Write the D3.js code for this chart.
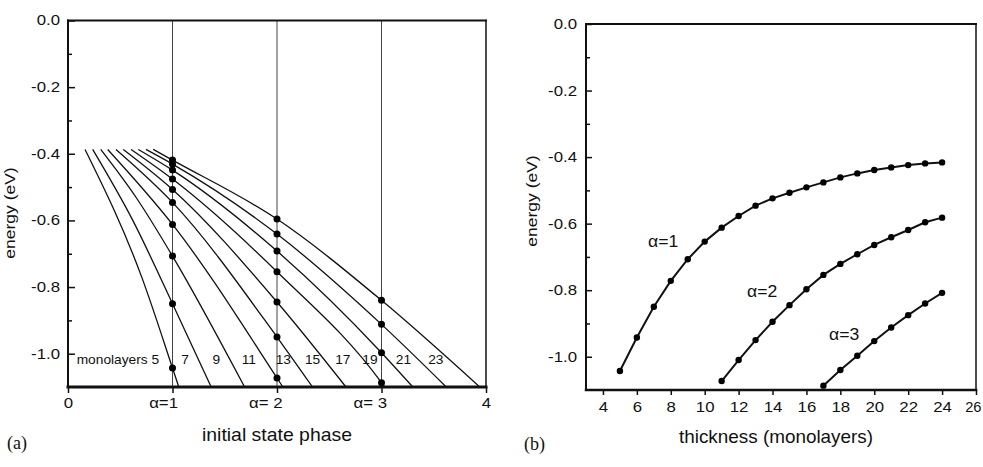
<!DOCTYPE html>
<html><head><meta charset="utf-8">
<script src="https://cdn.jsdelivr.net/npm/d3@7"></script>
<style>body{margin:0;background:#fff}</style>
</head><body><svg id="c" width="983" height="467"></svg>
<script>
// ---------- data ----------
// panel (a): energy vs initial state phase, one curve per film thickness
const monolayers       = [5, 7, 9, 11, 13, 15, 17, 19, 21, 23];
const curveStartPhase  = [0.163, 0.236, 0.313, 0.380, 0.459, 0.529, 0.603, 0.673, 0.746, 0.816];
const curveStartEnergy = -0.387;
const curveMidPhase    = [0.71, 0.62, 0.66, null, null, null, null, null, null, null];
const curveMidEnergy   = [-0.774, -0.60, -0.535, null, null, null, null, null, null, null];
const curveEndPhase    = [1.06, 1.37, 1.69, 2.056, 2.34, 2.66, 3.03, 3.30, 3.62, 3.94];
const curveEndEnergy   = -1.1;
const curveLabelPhase  = [0.083, 1.12, 1.42, 1.73, 2.06, 2.34, 2.63, 2.89, 3.21, 3.52];
const curveLabelEnergy = -1.016;
const alphaPhases      = [1, 2, 3];

// panel (b): quantum-well state energies vs thickness
const thicknessA1 = [5,6,7,8,9,10,11,12,13,14,15,16,17,18,19,20,21,22,23,24];
const energyA1    = [-1.043,-0.942,-0.850,-0.772,-0.707,-0.654,-0.612,-0.577,-0.546,-0.524,
                     -0.507,-0.491,-0.476,-0.461,-0.449,-0.439,-0.431,-0.424,-0.419,-0.416];
const thicknessA2 = [11,12,13,14,15,16,17,18,19,20,21,22,23,24];
const energyA2    = [-1.073,-1.010,-0.950,-0.895,-0.845,-0.797,-0.754,-0.721,-0.692,-0.664,
                     -0.641,-0.619,-0.596,-0.582];
const thicknessA3 = [17,18,19,20,21,22,23,24];
const energyA3    = [-1.087,-1.040,-0.997,-0.953,-0.912,-0.875,-0.840,-0.808];

// ticks
const energyTicks      = [0, -0.2, -0.4, -0.6, -0.8, -1.0];
const energyMinorTicks = [-0.1, -0.3, -0.5, -0.7, -0.9];
const phaseTicks       = [0, 1, 2, 3, 4];
const phaseTickLabels  = ["0", "α=1", "α= 2", "α= 3", "4"];
const thicknessTicks   = [4, 6, 8, 10, 12, 14, 16, 18, 20, 22, 24, 26];

// ---------- drawing ----------
const SANS = '"Liberation Sans", Arial, Helvetica, sans-serif';
const SERIF = '"Liberation Serif", "Times New Roman", serif';
const TS = 1.2;      // horizontal stretch of tick labels (scan has wide type)
const svg = d3.select('#c');

const xA = d3.scaleLinear([0, 4], [68, 486]);
const yA = d3.scaleLinear([-1.1, 0], [387, 20.5]);
const xB = d3.scaleLinear([3, 26], [586, 976]);
const yB = d3.scaleLinear([-1.1, 0], [390, 24]);

function txt(g, x, y, s, o) {
  return g.append('text')
    .attr('transform', `translate(${x},${y})${o.rot ? ' rotate(-90)' : ''} scale(${o.sx || 1},1)`)
    .attr('text-anchor', o.anchor || 'start')
    .style('font-family', o.family || SANS)
    .style('font-size', o.size + 'px')
    .attr('fill', '#111')
    .text(s);
}
function styleAxis(g, sx) {
  g.select('.domain').remove();
  g.selectAll('.tick line').attr('stroke', '#111').attr('stroke-width', 1.5);
  g.selectAll('.tick text').style('font-family', SANS).style('font-size', '14px')
    .attr('fill', '#111').attr('transform', `scale(${sx},1)`);
}
function frame(g, x, y, wl, wb, wt, wr) {
  const [x0, x1] = x.range(), [y0, y1] = y.range();
  const L = (a, b, c, d, w) => g.append('line').attr('x1', a).attr('y1', b).attr('x2', c).attr('y2', d)
    .attr('stroke', '#111').attr('stroke-width', w).attr('stroke-linecap', 'square');
  L(x0, y0, x0, y1, wl); L(x0, y0, x1, y0, wb); L(x0, y1, x1, y1, wt); L(x1, y0, x1, y1, wr);
}

// ===== panel (a) =====
const gA = svg.append('g');
gA.selectAll('line.alpha').data(alphaPhases).join('line').attr('class', 'alpha')
  .attr('x1', d => xA(d)).attr('x2', d => xA(d))
  .attr('y1', yA(0)).attr('y2', yA(-1.1))
  .attr('stroke', '#444').attr('stroke-width', 1);

const alphaSets = [
  {t: thicknessA1, e: energyA1},
  {t: thicknessA2, e: energyA2},
  {t: thicknessA3, e: energyA3}
];
function dotEnergy(n, a) {
  const s = alphaSets[a - 1];
  const i = s.t.indexOf(n);
  return i < 0 ? null : s.e[i];
}
const curves = monolayers.map((n, i) => {
  const pts = [[curveStartPhase[i], curveStartEnergy]];
  if (curveMidPhase[i] != null) pts.push([curveMidPhase[i], curveMidEnergy[i]]);
  const dots = [];
  alphaPhases.forEach(a => {
    const e = dotEnergy(n, a);
    if (e != null && a < curveEndPhase[i]) { pts.push([a, e]); dots.push([a, e]); }
  });
  pts.push([curveEndPhase[i], curveEndEnergy]);
  return {n, pts, dots};
});
const lineA = d3.line().x(d => xA(d[0])).y(d => yA(d[1])).curve(d3.curveMonotoneX);
gA.selectAll('path.curve').data(curves).join('path').attr('class', 'curve')
  .attr('d', d => lineA(d.pts)).attr('fill', 'none')
  .attr('stroke', '#111').attr('stroke-width', 1.3);
gA.selectAll('circle').data(curves.flatMap(c => c.dots)).join('circle')
  .attr('cx', d => xA(d[0])).attr('cy', d => yA(d[1])).attr('r', 3.5).attr('fill', '#000');

// curve labels
monolayers.forEach((n, i) => {
  if (i === 0) txt(gA, xA(curveLabelPhase[i]), yA(curveLabelEnergy) + 5, 'monolayers ' + n, {size: 12.5, sx: 1.1});
  else txt(gA, xA(curveLabelPhase[i]), yA(curveLabelEnergy) + 5, String(n), {size: 12.5, sx: 1.1, anchor: 'middle'});
});

// axes (a)
gA.append('g').attr('transform', `translate(${xA(0)},0)`)
  .call(d3.axisLeft(yA).tickValues(energyTicks).tickFormat(d => d.toFixed(1))
    .tickSizeInner(-7).tickSizeOuter(0).tickPadding(8 / TS))
  .call(g => styleAxis(g, TS));
gA.append('g').attr('transform', `translate(${xA(0)},0)`)
  .call(d3.axisLeft(yA).tickValues(energyMinorTicks).tickFormat('')
    .tickSizeInner(-4).tickSizeOuter(0))
  .call(g => styleAxis(g, TS));
gA.append('g').attr('transform', `translate(0,${yA(-1.1)})`)
  .call(d3.axisBottom(xA).tickValues(phaseTicks).tickFormat((d, i) => phaseTickLabels[i])
    .tickSizeInner(6).tickSizeOuter(0).tickPadding(5))
  .call(g => styleAxis(g, TS))
  .call(g => g.selectAll('.tick text').filter(d => d > 0 && d < 4)
    .attr('text-anchor', 'end').attr('x', 5 / TS));
frame(gA, xA, yA, 2, 3, 2, 1.5);

txt(gA, 15, 213, 'energy (eV)', {size: 14, sx: 1.25, rot: true, anchor: 'middle'});
txt(gA, 277, 441, 'initial state phase', {size: 18, sx: 1.08, anchor: 'middle'});
txt(gA, 7, 449, '(a)', {size: 18, family: SERIF});

// ===== panel (b) =====
const gB = svg.append('g');
const lineB = d3.line().x(d => xB(d[0])).y(d => yB(d[1]));
const seriesB = alphaSets.map(s => s.t.map((t, i) => [t, s.e[i]]));
gB.selectAll('path.series').data(seriesB).join('path').attr('class', 'series')
  .attr('d', lineB).attr('fill', 'none').attr('stroke', '#111').attr('stroke-width', 2);
gB.selectAll('circle').data(seriesB.flat()).join('circle')
  .attr('cx', d => xB(d[0])).attr('cy', d => yB(d[1])).attr('r', 3.2).attr('fill', '#000');

gB.append('g').attr('transform', `translate(${xB(3)},0)`)
  .call(d3.axisLeft(yB).tickValues(energyTicks).tickFormat(d => d.toFixed(1))
    .tickSizeInner(-6).tickSizeOuter(0).tickPadding(9 / TS))
  .call(g => styleAxis(g, TS));
gB.append('g').attr('transform', `translate(${xB(3)},0)`)
  .call(d3.axisLeft(yB).tickValues(energyMinorTicks).tickFormat('')
    .tickSizeInner(-4).tickSizeOuter(0))
  .call(g => styleAxis(g, TS));
gB.append('g').attr('transform', `translate(0,${yB(-1.1)})`)
  .call(d3.axisBottom(xB).tickValues(thicknessTicks).tickFormat(d => String(d))
    .tickSizeInner(5).tickSizeOuter(0).tickPadding(7))
  .call(g => styleAxis(g, TS))
  .call(g => g.selectAll('.tick text').filter(d => d === 26)
    .attr('transform', 'scale(1.05,1)').attr('x', -3));
frame(gB, xB, yB, 2, 2.5, 2, 1.5);

txt(gB, 537, 201, 'energy (eV)', {size: 14, sx: 1.25, rot: true, anchor: 'middle'});
txt(gB, 776, 443, 'thickness (monolayers)', {size: 18, sx: 1.05, anchor: 'middle'});
txt(gB, 524, 450, '(b)', {size: 18, family: SERIF});
txt(gB, 648, 247, 'α=1', {size: 16, sx: 1.1});
txt(gB, 747, 297, 'α=2', {size: 16, sx: 1.1});
txt(gB, 829, 340, 'α=3', {size: 16, sx: 1.1});
</script></body></html>
